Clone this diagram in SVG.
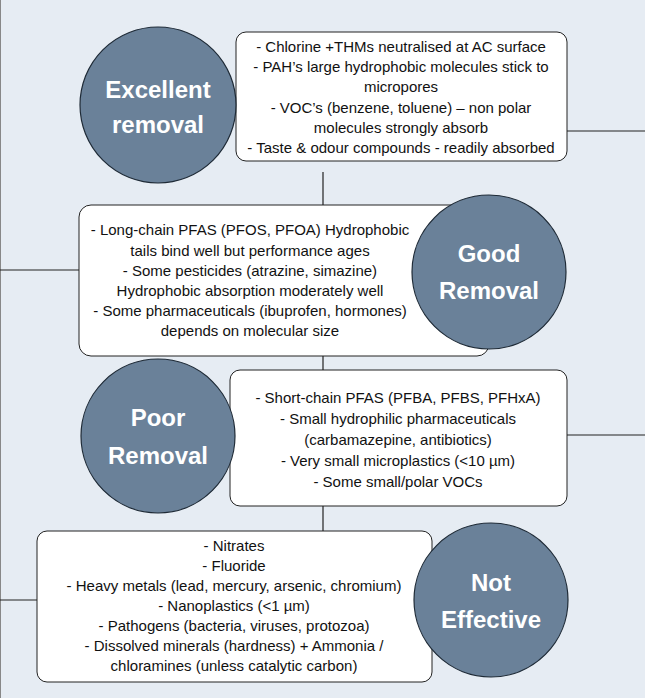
<svg xmlns="http://www.w3.org/2000/svg" width="645" height="698" viewBox="0 0 645 698">
<style>
.bg{fill:#e6ecf3}
.c{fill:#6a8199;stroke:#1e2a36;stroke-width:1.2}
.b{fill:#fff;stroke:#222;stroke-width:1}
.l{stroke:#222;stroke-width:1.2;fill:none}
.t{font-family:"Liberation Sans",Arial,sans-serif;font-size:15px;fill:#111;text-anchor:middle}
.h{font-family:"Liberation Sans",Arial,sans-serif;font-size:24px;font-weight:bold;fill:#fff;text-anchor:middle}
</style>
<rect class="bg" width="645" height="698"/>
<line x1="0.5" y1="0" x2="0.5" y2="698" stroke="#888" stroke-width="1"/>
<g id="connectors">
<line class="l" x1="567" y1="131" x2="645" y2="131"/>
<line class="l" x1="323" y1="172" x2="323" y2="205"/>
<line class="l" x1="0" y1="270" x2="79" y2="270"/>
<line class="l" x1="323" y1="337" x2="323" y2="370"/>
<line class="l" x1="567" y1="435" x2="645" y2="435"/>
<line class="l" x1="323" y1="506" x2="323" y2="544"/>
<line class="l" x1="0" y1="600" x2="78" y2="600"/>
</g>
<g id="excellent">
<rect class="b" x="236" y="32" width="331" height="129" rx="10"/>
<text class="t"><tspan x="401" y="52">- Chlorine +THMs  neutralised at AC surface</tspan><tspan x="401" y="72">- PAH’s  large hydrophobic molecules stick to</tspan><tspan x="401" y="92">micropores</tspan><tspan x="401" y="113">- VOC’s (benzene, toluene) – non polar</tspan><tspan x="401" y="133">molecules strongly absorb</tspan><tspan x="401" y="153">- Taste &amp; odour compounds - readily absorbed</tspan></text>
<circle class="c" cx="158" cy="105" r="78"/>
<text class="h"><tspan x="158" y="98">Excellent</tspan><tspan x="158" y="133">removal</tspan></text>
</g>
<g id="good">
<rect class="b" x="79" y="205" width="410" height="151" rx="12"/>
<text class="t"><tspan x="250" y="235">- Long-chain PFAS (PFOS, PFOA) Hydrophobic</tspan><tspan x="250" y="256">tails bind well but performance ages</tspan><tspan x="250" y="276">- Some pesticides (atrazine, simazine)</tspan><tspan x="250" y="296">Hydrophobic absorption moderately well</tspan><tspan x="250" y="316">- Some pharmaceuticals (ibuprofen, hormones)</tspan><tspan x="250" y="336">depends on molecular size</tspan></text>
<circle class="c" cx="489" cy="272" r="77"/>
<text class="h"><tspan x="489" y="262">Good</tspan><tspan x="489" y="299">Removal</tspan></text>
</g>
<g id="poor">
<rect class="b" x="230" y="370" width="337" height="136" rx="10"/>
<text class="t"><tspan x="398" y="403">- Short-chain PFAS (PFBA, PFBS, PFHxA)</tspan><tspan x="398" y="424">- Small hydrophilic pharmaceuticals</tspan><tspan x="398" y="445">(carbamazepine, antibiotics)</tspan><tspan x="398" y="466">- Very small microplastics (&lt;10 µm)</tspan><tspan x="398" y="487">- Some small/polar VOCs</tspan></text>
<circle class="c" cx="158" cy="436" r="77"/>
<text class="h"><tspan x="158" y="426">Poor</tspan><tspan x="158" y="464">Removal</tspan></text>
</g>
<g id="noteffective">
<rect class="b" x="37" y="531" width="395" height="151" rx="10"/>
<text class="t"><tspan x="234" y="551">- Nitrates</tspan><tspan x="234" y="571">- Fluoride</tspan><tspan x="234" y="591">- Heavy metals (lead, mercury, arsenic, chromium)</tspan><tspan x="234" y="611">- Nanoplastics (&lt;1 µm)</tspan><tspan x="234" y="631">- Pathogens (bacteria, viruses, protozoa)</tspan><tspan x="234" y="651">- Dissolved minerals (hardness) + Ammonia /</tspan><tspan x="234" y="671">chloramines (unless catalytic carbon)</tspan></text>
<circle class="c" cx="491" cy="600" r="77"/>
<text class="h"><tspan x="491" y="591">Not</tspan><tspan x="491" y="628">Effective</tspan></text>
</g>
</svg>
